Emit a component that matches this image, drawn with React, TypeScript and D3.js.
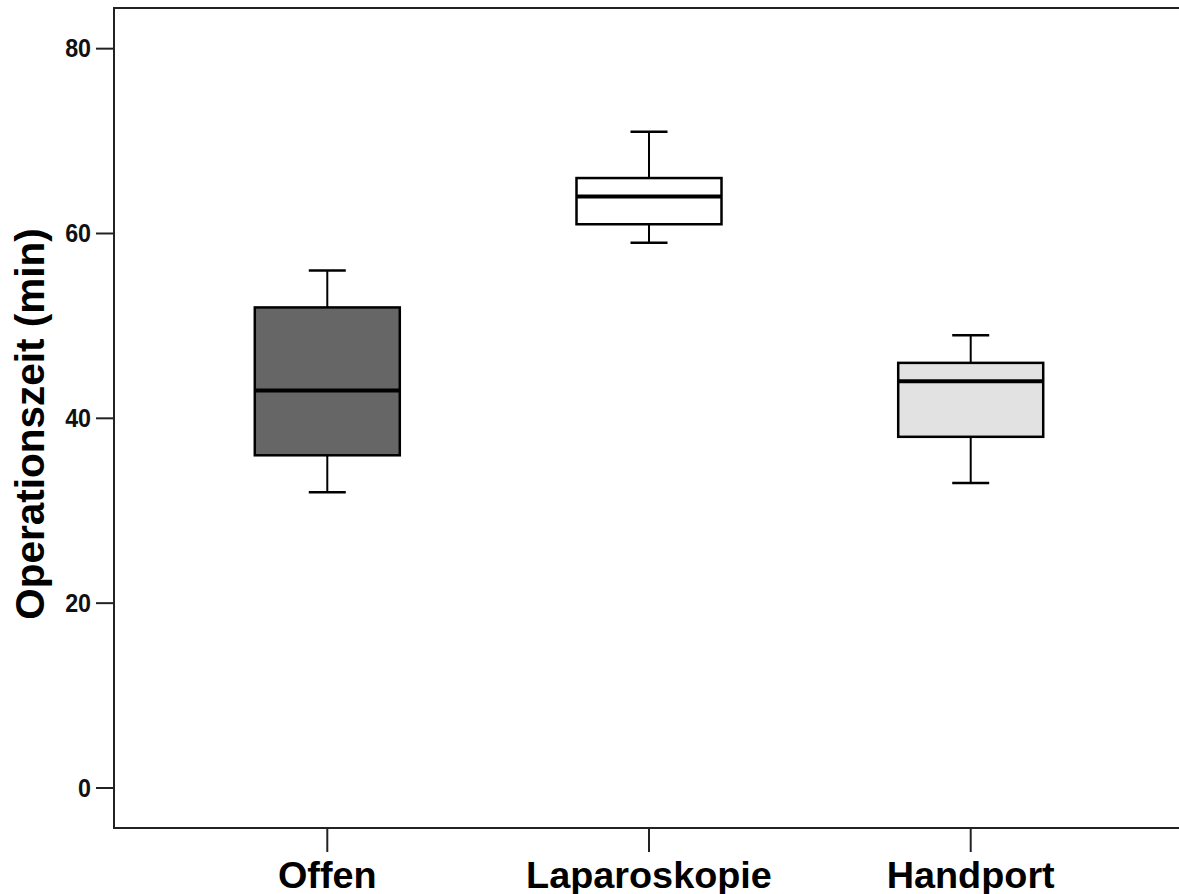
import React, { useEffect, useRef } from "react";
import * as d3 from "d3";

// groups and five-number summaries
const groups = ["Offen", "Laparoskopie", "Handport"];
const whiskerLow = [32, 59, 33];
const q1 = [36, 61, 38];
const median = [43, 64, 44];
const q3 = [52, 66, 46];
const whiskerHigh = [56, 71, 49];
const fills = ["#666666", "#ffffff", "#e2e2e2"];
const yTicks = [0, 20, 40, 60, 80];

export default function App() {
  const ref = useRef<SVGSVGElement>(null);

  useEffect(() => {
    drawChart();
  }, []);

  function drawChart() {
    const width = 1179;
    const height = 894;
    const left = 114;
    const top = 8;
    const bottom = 828;
    const right = 1184;

    const svg = d3.select(ref.current);
    svg.selectAll("*").remove();

    const y = d3.scaleLinear().domain([-4.33, 84.4]).range([bottom, top]);
    const x = d3.scalePoint().domain(groups).range([left, right]).padding(0.663);
    const boxW = 145;
    const capW = 37;

    // frame
    svg
      .append("path")
      .attr("d", `M${right},${top}H${left}V${bottom}H${right}`)
      .attr("fill", "none")
      .attr("stroke", "#222")
      .attr("stroke-width", 2);

    // y axis ticks
    const yAxis = svg.append("g").attr("transform", `translate(${left},0)`);
    yAxis
      .selectAll("line")
      .data(yTicks)
      .join("line")
      .attr("x1", -18)
      .attr("x2", 0)
      .attr("y1", (d) => y(d))
      .attr("y2", (d) => y(d))
      .attr("stroke", "#222")
      .attr("stroke-width", 2);
    yAxis
      .selectAll("text")
      .data(yTicks)
      .join("text")
      .attr("transform", (d) => `translate(-23,${y(d)}) scale(0.93,1)`)
      .attr("dy", "0.35em")
      .attr("text-anchor", "end")
      .attr("font-family", "'Liberation Sans', Arial, sans-serif")
      .attr("font-weight", "bold")
      .attr("font-size", 25)
      .attr("fill", "#111")
      .text((d) => d);

    // x axis ticks and labels
    const xAxis = svg.append("g").attr("transform", `translate(0,${bottom})`);
    xAxis
      .selectAll("line")
      .data(groups)
      .join("line")
      .attr("x1", (d) => x(d)!)
      .attr("x2", (d) => x(d)!)
      .attr("y1", 0)
      .attr("y2", 24)
      .attr("stroke", "#222")
      .attr("stroke-width", 2);
    xAxis
      .selectAll("text")
      .data(groups)
      .join("text")
      .attr("x", (d) => x(d)!)
      .attr("y", 60)
      .attr("text-anchor", "middle")
      .attr("font-family", "'Liberation Sans', Arial, sans-serif")
      .attr("font-weight", "bold")
      .attr("font-size", 37.8)
      .attr("fill", "#000")
      .text((d) => d);

    // y title
    svg
      .append("text")
      .attr("transform", `translate(44,424) rotate(-90)`)
      .attr("text-anchor", "middle")
      .attr("font-family", "'Liberation Sans', Arial, sans-serif")
      .attr("font-weight", "bold")
      .attr("font-size", 40.5)
      .attr("fill", "#000")
      .text("Operationszeit (min)");

    // boxes
    const box = svg
      .append("g")
      .selectAll("g")
      .data(groups)
      .join("g")
      .attr("transform", (d) => `translate(${x(d)},0)`);

    box
      .append("line")
      .attr("y1", (d, i) => y(whiskerHigh[i]))
      .attr("y2", (d, i) => y(q3[i]))
      .attr("stroke", "#000")
      .attr("stroke-width", 2);
    box
      .append("line")
      .attr("y1", (d, i) => y(whiskerLow[i]))
      .attr("y2", (d, i) => y(q1[i]))
      .attr("stroke", "#000")
      .attr("stroke-width", 2);
    box
      .append("line")
      .attr("x1", -capW / 2)
      .attr("x2", capW / 2)
      .attr("y1", (d, i) => y(whiskerHigh[i]))
      .attr("y2", (d, i) => y(whiskerHigh[i]))
      .attr("stroke", "#000")
      .attr("stroke-width", 2.5);
    box
      .append("line")
      .attr("x1", -capW / 2)
      .attr("x2", capW / 2)
      .attr("y1", (d, i) => y(whiskerLow[i]))
      .attr("y2", (d, i) => y(whiskerLow[i]))
      .attr("stroke", "#000")
      .attr("stroke-width", 2.5);
    box
      .append("rect")
      .attr("x", -boxW / 2)
      .attr("width", boxW)
      .attr("y", (d, i) => y(q3[i]))
      .attr("height", (d, i) => y(q1[i]) - y(q3[i]))
      .attr("fill", (d, i) => fills[i])
      .attr("stroke", "#000")
      .attr("stroke-width", 2.5);
    box
      .append("line")
      .attr("x1", -boxW / 2)
      .attr("x2", boxW / 2)
      .attr("y1", (d, i) => y(median[i]))
      .attr("y2", (d, i) => y(median[i]))
      .attr("stroke", "#000")
      .attr("stroke-width", 4);

    svg.attr("width", width).attr("height", height);
  }

  return (
    <svg
      ref={ref}
      width={1179}
      height={894}
      style={{ position: "absolute", left: 0, top: 0, background: "#fff" }}
    />
  );
}
